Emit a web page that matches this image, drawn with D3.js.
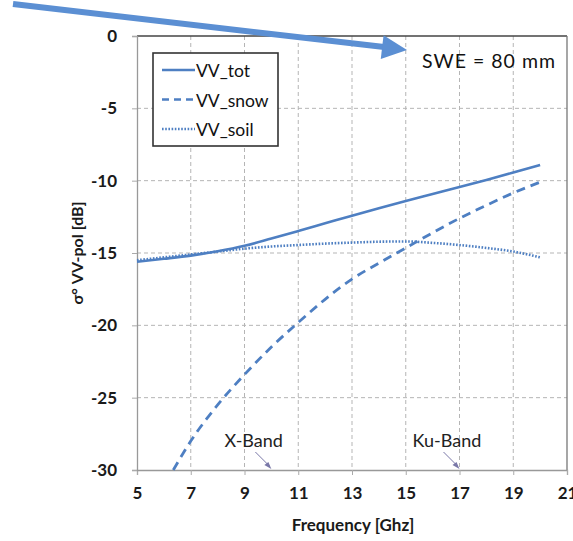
<!DOCTYPE html>
<html>
<head>
<meta charset="utf-8">
<script src="https://cdn.jsdelivr.net/npm/d3@7"></script>
<style>
  body { margin: 0; background: #fff; }
  svg { display: block; font-family: Lato, "Open Sans", sans-serif; }
</style>
</head>
<body>
<script>
// data
const freq = [5, 6, 7, 8, 9, 10, 11, 12, 13, 14, 15, 16, 17, 18, 19, 20];
const vvTot = [-15.6, -15.4, -15.18, -14.88, -14.5, -14.0, -13.48, -12.95, -12.42, -11.9, -11.4, -10.92, -10.44, -9.95, -9.44, -8.92];
const vvSoil = [-15.5, -15.3, -15.1, -14.9, -14.7, -14.55, -14.45, -14.35, -14.28, -14.22, -14.2, -14.3, -14.45, -14.65, -14.9, -15.3];
const snowFreq = [6.35, 7, 8, 9, 10, 11, 12, 13, 14, 15, 16, 17, 18, 19, 20];
const vvSnow = [-30, -28.0, -25.5, -23.4, -21.5, -19.8, -18.2, -16.8, -15.7, -14.65, -13.6, -12.6, -11.7, -10.85, -10.1];
const xTicks = [5, 7, 9, 11, 13, 15, 17, 19, 21];
const yTicks = [0, -5, -10, -15, -20, -25, -30];
const seriesNames = ["VV_tot", "VV_snow", "VV_soil"];
const bandLabels = ["X-Band", "Ku-Band"];
const bandFreq = [10, 17];

const W = 573, H = 541;
const blue = "#4e7fc2";
const svg = d3.select("body").append("svg").attr("width", W).attr("height", H);

const x = d3.scaleLinear().domain([5, 21]).range([137, 567]);
const y = d3.scaleLinear().domain([-30, 0]).range([470, 36]);

// grid
const grid = svg.append("g");
grid.selectAll("line.vg")
  .data(xTicks.slice(1, -1))
  .join("line")
  .attr("x1", d => x(d)).attr("x2", d => x(d))
  .attr("y1", y(0)).attr("y2", y(-30))
  .attr("stroke", "#b5b5b5").attr("stroke-width", 1)
  .attr("stroke-dasharray", "4,3");
grid.selectAll("line.hg")
  .data(yTicks.slice(1, -1))
  .join("line")
  .attr("x1", x(5)).attr("x2", x(21))
  .attr("y1", d => y(d)).attr("y2", d => y(d))
  .attr("stroke", "#b5b5b5").attr("stroke-width", 1)
  .attr("stroke-dasharray", "4,3");

// frame
svg.append("line").attr("x1", x(5)).attr("x2", x(21)).attr("y1", y(0)).attr("y2", y(0))
  .attr("stroke", "#444").attr("stroke-width", 1.6);
svg.append("line").attr("x1", x(21)).attr("x2", x(21)).attr("y1", y(0)).attr("y2", y(-30))
  .attr("stroke", "#777").attr("stroke-width", 1.3);

// axes
const xAxis = svg.append("g")
  .attr("transform", `translate(0,${y(-30)})`)
  .call(d3.axisBottom(x).tickValues(xTicks).tickFormat(d => String(d)).tickSize(5).tickPadding(12));
const yAxis = svg.append("g")
  .attr("transform", `translate(${x(5)},0)`)
  .call(d3.axisLeft(y).tickValues(yTicks).tickFormat(d => String(d)).tickSize(5).tickPadding(15));
[xAxis, yAxis].forEach(a => {
  a.select(".domain").attr("stroke", "#999").attr("stroke-width", 1.3);
  a.selectAll(".tick line").attr("stroke", "#aaa");
  a.selectAll("text").attr("font-size", 17).attr("font-weight", "bold")
    .attr("fill", "#1a1a1a").attr("font-family", "Lato, sans-serif");
});

// lines
const line = d3.line().curve(d3.curveMonotoneX);
svg.append("path")
  .attr("d", line(freq.map((f, i) => [x(f), y(vvTot[i])])))
  .attr("fill", "none").attr("stroke", blue).attr("stroke-width", 2.6);
svg.append("path")
  .attr("d", line(snowFreq.map((f, i) => [x(f), y(vvSnow[i])])))
  .attr("fill", "none").attr("stroke", blue).attr("stroke-width", 2.8)
  .attr("stroke-dasharray", "9,6");
svg.append("path")
  .attr("d", line(freq.map((f, i) => [x(f), y(vvSoil[i])])))
  .attr("fill", "none").attr("stroke", blue).attr("stroke-width", 2.6)
  .attr("stroke-dasharray", "1.6,1.6");

// legend
const lg = svg.append("g");
lg.append("rect").attr("x", 153).attr("y", 53).attr("width", 125).attr("height", 93)
  .attr("fill", "#fff").attr("stroke", "#333").attr("stroke-width", 1.6);
const dashes = [null, "7,5", "1.6,1.6"];
seriesNames.forEach((name, i) => {
  const ly = 70 + i * 29.5;
  lg.append("line").attr("x1", 162).attr("x2", 195).attr("y1", ly).attr("y2", ly)
    .attr("stroke", blue).attr("stroke-width", 2.6)
    .attr("stroke-dasharray", dashes[i]);
  lg.append("text").attr("x", 196).attr("y", ly + 7).text(name)
    .attr("font-size", 17.5).attr("fill", "#111");
});

// SWE label
svg.append("text").attr("x", 422).attr("y", 68).text("SWE = 80 mm")
  .attr("font-size", 19.5).attr("fill", "#111")
  .attr("textLength", 133).attr("lengthAdjust", "spacing");

// band annotations
const ann = svg.append("g");
bandLabels.forEach((lab, i) => {
  const fx = x(bandFreq[i]);
  ann.append("text").attr("x", fx - 47).attr("y", 447).text(lab)
    .attr("font-size", 18).attr("fill", "#222");
  ann.append("line").attr("x1", fx - 16).attr("y1", 452).attr("x2", fx - 2).attr("y2", 466)
    .attr("stroke", "#7a78a8").attr("stroke-width", 1);
  ann.append("path").attr("d", `M${fx},${469} l-7,-4 l4,-3 z`).attr("fill", "#7a78a8");
});

// axis titles
svg.append("text").attr("x", 353).attr("y", 531).attr("text-anchor", "middle")
  .text("Frequency [Ghz]").attr("font-size", 17).attr("font-weight", "bold").attr("fill", "#1a1a1a");
svg.append("text").attr("transform", `translate(83,253) rotate(-90)`)
  .attr("text-anchor", "middle")
  .text("σ° VV-pol [dB]").attr("font-size", 16).attr("font-weight", "bold").attr("fill", "#1a1a1a");

// big blue arrow
const arrowFrom = [13, 4], arrowTo = [407, 50];
const ang = Math.atan2(arrowTo[1] - arrowFrom[1], arrowTo[0] - arrowFrom[0]);
const headL = 25, headW = 12;
const bx = arrowTo[0] - headL * Math.cos(ang), by = arrowTo[1] - headL * Math.sin(ang);
svg.append("line").attr("x1", arrowFrom[0]).attr("y1", arrowFrom[1]).attr("x2", bx + 2).attr("y2", by)
  .attr("stroke", "#5b8fd3").attr("stroke-width", 6);
svg.append("path")
  .attr("d", `M${arrowTo[0]},${arrowTo[1]} L${bx - headW * Math.sin(ang)},${by + headW * Math.cos(ang)} L${bx + headW * Math.sin(ang)},${by - headW * Math.cos(ang)} Z`)
  .attr("fill", "#5b8fd3");
</script>
</body>
</html>
